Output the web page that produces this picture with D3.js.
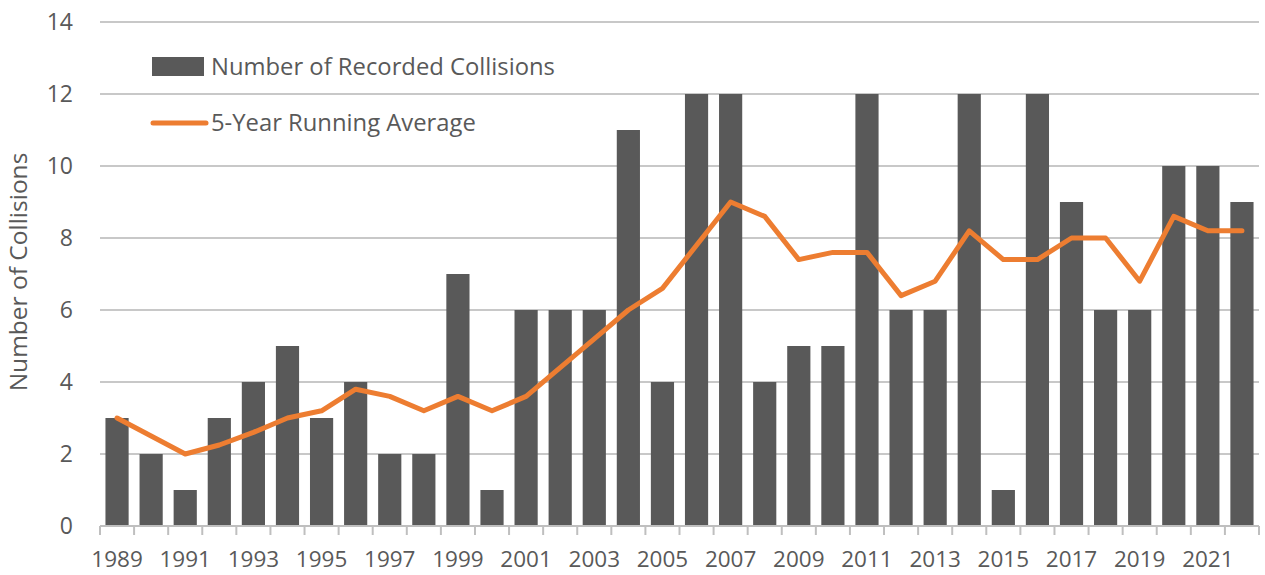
<!DOCTYPE html>
<html>
<head>
<meta charset="utf-8">
<script src="https://cdn.jsdelivr.net/npm/d3@7"></script>
<style>
  html, body { margin: 0; padding: 0; background: #fff; }
  svg { display: block; }
  text { font-family: "Open Sans", "Noto Sans", sans-serif; fill: #595959; }
</style>
</head>
<body>
<svg id="chart" width="1265" height="575"></svg>
<script>
const years = [1989,1990,1991,1992,1993,1994,1995,1996,1997,1998,1999,2000,2001,2002,2003,2004,2005,2006,2007,2008,2009,2010,2011,2012,2013,2014,2015,2016,2017,2018,2019,2020,2021,2022];
const collisions = [3,2,1,3,4,5,3,4,2,2,7,1,6,6,6,11,4,12,12,4,5,5,12,6,6,12,1,12,9,6,6,10,10,9];
const runningAvg = [3,2.5,2,2.25,2.6,3,3.2,3.8,3.6,3.2,3.6,3.2,3.6,4.4,5.2,6,6.6,7.8,9,8.6,7.4,7.6,7.6,6.4,6.8,8.2,7.4,7.4,8,8,6.8,8.6,8.2,8.2];
const yTicks = [0,2,4,6,8,10,12,14];
const xTickLabels = [1989,1991,1993,1995,1997,1999,2001,2003,2005,2007,2009,2011,2013,2015,2017,2019,2021];
const seriesNames = ["Number of Recorded Collisions", "5-Year Running Average"];
const axisTitle = "Number of Collisions";

const svg = d3.select("#chart");
const margin = {left: 100, right: 6, top: 22, bottom: 49};
const W = 1265, H = 575;
const x = d3.scaleBand().domain(years).range([margin.left, W - margin.right]).paddingInner(0.32).paddingOuter(0.16);
const y = d3.scaleLinear().domain([0, 14]).range([H - margin.bottom, margin.top]);

// gridlines
svg.append("g").selectAll("line").data(yTicks.filter(d => d > 0)).join("line")
  .attr("x1", margin.left).attr("x2", W - margin.right)
  .attr("y1", d => y(d)).attr("y2", d => y(d))
  .attr("stroke", "#c8c8c8").attr("stroke-width", 2);

// bars
svg.append("g").selectAll("rect").data(years).join("rect")
  .attr("x", (d) => x(d))
  .attr("width", x.bandwidth())
  .attr("y", (d, i) => y(collisions[i]))
  .attr("height", (d, i) => y(0) - y(collisions[i]))
  .attr("fill", "#595959");

// x axis line & ticks at band boundaries
const step = x.step();
const xStart = margin.left;
const xEnd = W - margin.right;
const axisG = svg.append("g");
axisG.append("line").attr("x1", xStart).attr("x2", xEnd)
  .attr("y1", y(0)).attr("y2", y(0)).attr("stroke", "#bfbfbf").attr("stroke-width", 2);
const boundaries = years.map(d => x(d) - x.paddingInner() * step / 2).concat([xEnd]);
axisG.selectAll("line.tick").data(boundaries).join("line").attr("class", "tick")
  .attr("x1", d => d).attr("x2", d => d)
  .attr("y1", y(0)).attr("y2", y(0) + 9)
  .attr("stroke", "#bfbfbf").attr("stroke-width", 2);

// x labels
svg.append("g").selectAll("text").data(xTickLabels).join("text")
  .attr("x", d => x(d) + x.bandwidth() / 2)
  .attr("y", 567)
  .attr("text-anchor", "middle")
  .attr("font-size", 22.5)
  .text(d => d);

// y labels
svg.append("g").selectAll("text").data(yTicks).join("text")
  .attr("x", 73)
  .attr("y", d => y(d))
  .attr("dy", "0.35em")
  .attr("text-anchor", "end")
  .attr("font-size", 23)
  .text(d => d);

// y axis title
svg.append("text")
  .attr("transform", `translate(27, 272) rotate(-90)`)
  .attr("text-anchor", "middle")
  .attr("font-size", 24.5)
  .text(axisTitle);

// line
const line = d3.line().x((d, i) => x(years[i]) + x.bandwidth() / 2).y(d => y(d));
svg.append("path").datum(runningAvg)
  .attr("d", line)
  .attr("fill", "none")
  .attr("stroke", "#ED7D31")
  .attr("stroke-width", 5)
  .attr("stroke-linejoin", "round")
  .attr("stroke-linecap", "round");

// legend
const leg = svg.append("g");
leg.append("rect").attr("x", 152).attr("y", 57).attr("width", 52).attr("height", 19).attr("fill", "#595959");
leg.append("text").attr("x", 211).attr("y", 67).attr("dy", "0.35em").attr("font-size", 23.8).text(seriesNames[0]);
leg.append("line").attr("x1", 153).attr("x2", 206).attr("y1", 123).attr("y2", 123)
  .attr("stroke", "#ED7D31").attr("stroke-width", 5).attr("stroke-linecap", "round");
leg.append("text").attr("x", 211).attr("y", 123).attr("dy", "0.35em").attr("font-size", 23.8).text(seriesNames[1]);
</script>
</body>
</html>
